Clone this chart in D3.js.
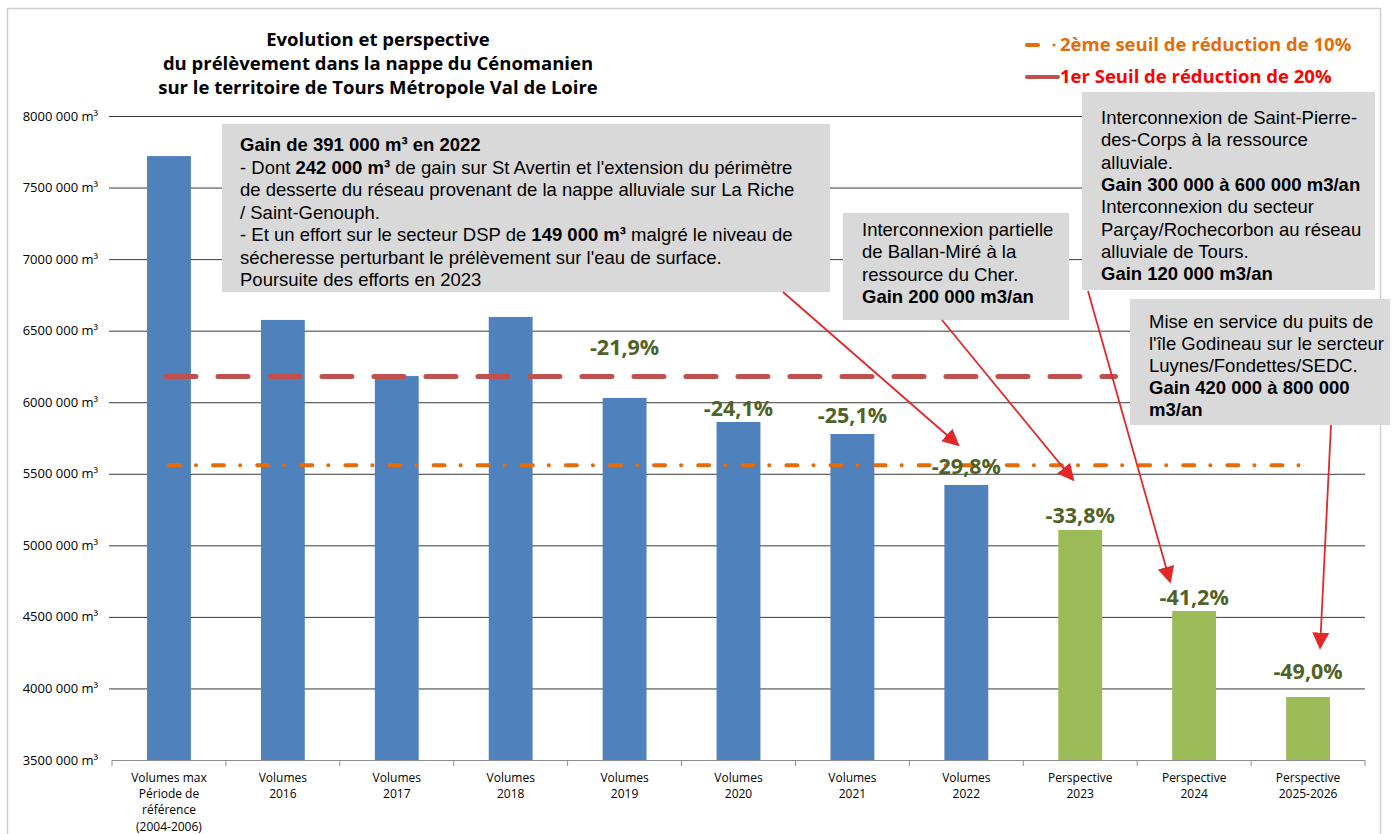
<!DOCTYPE html>
<html>
<head>
<meta charset="utf-8">
<script src="https://cdn.jsdelivr.net/npm/d3@7"></script>
<style>
  body { margin: 0; background: #fff; }
  svg { display: block; }
  .calibri { font-family: "Open Sans", "Liberation Sans", sans-serif; }
  .arial { font-family: "Liberation Sans", Arial, sans-serif; }
</style>
</head>
<body>
<div id="chart"></div>
<script>
// categories + values
const categories = [
  ["Volumes max", "Période de", "référence", "(2004-2006)"],
  ["Volumes", "2016"],
  ["Volumes", "2017"],
  ["Volumes", "2018"],
  ["Volumes", "2019"],
  ["Volumes", "2020"],
  ["Volumes", "2021"],
  ["Volumes", "2022"],
  ["Perspective", "2023"],
  ["Perspective", "2024"],
  ["Perspective", "2025-2026"]
];
const volumes = [7720000, 6575000, 6183000, 6596000, 6030000, 5862000, 5778000, 5422000, 5107000, 4541000, 3940000];
const isPerspective = [false, false, false, false, false, false, false, false, true, true, true];
const pctLabels = [null, null, null, null, "-21,9%", "-24,1%", "-25,1%", "-29,8%", "-33,8%", "-41,2%", "-49,0%"];

const yTicks = [3500000, 4000000, 4500000, 5000000, 5500000, 6000000, 6500000, 7000000, 7500000, 8000000];
const yTickLabels = ["3500 000 m³", "4000 000 m³", "4500 000 m³", "5000 000 m³", "5500 000 m³", "6000 000 m³", "6500 000 m³", "7000 000 m³", "7500 000 m³", "8000 000 m³"];

// seuils (20% and 10% extra reduction of the reference volume)
const seuil20 = 6180000;
const seuil10 = 5560000;

const titleLines = ["Evolution et perspective", "du prélèvement dans la nappe du Cénomanien", "sur le territoire de Tours Métropole Val de Loire"];

// annotation boxes: lines of [text, bold] segments
const noteGain2022 = [
  [["Gain de 391 000 m³ en 2022", true]],
  [["- Dont ", false], ["242 000 m³", true], [" de gain sur St Avertin et l'extension du périmètre", false]],
  [["de desserte du réseau provenant de la nappe alluviale sur La Riche", false]],
  [["/ Saint-Genouph.", false]],
  [["- Et un effort sur le secteur DSP de ", false], ["149 000 m³", true], [" malgré le niveau de", false]],
  [["sécheresse perturbant le prélèvement sur l'eau de surface.", false]],
  [["Poursuite des efforts en 2023", false]]
];
const noteBallan = [
  [["Interconnexion partielle", false]],
  [["de Ballan-Miré à la", false]],
  [["ressource du Cher.", false]],
  [["Gain 200 000 m3/an", true]]
];
const noteStPierre = [
  [["Interconnexion de Saint-Pierre-", false]],
  [["des-Corps à la ressource", false]],
  [["alluviale.", false]],
  [["Gain 300 000 à 600 000 m3/an", true]],
  [["Interconnexion du secteur", false]],
  [["Parçay/Rochecorbon au réseau", false]],
  [["alluviale de Tours.", false]],
  [["Gain 120 000 m3/an", true]]
];
const noteGodineau = [
  [["Mise en service du puits de", false]],
  [["l'île Godineau sur le sercteur", false]],
  [["Luynes/Fondettes/SEDC.", false]],
  [["Gain 420 000 à 800 000", true]],
  [["m3/an", true]]
];

const W = 1395, H = 834;
const margin = {top: 116, right: 30, bottom: 74, left: 112};
const innerW = 1365 - margin.left;
const innerH = 760 - margin.top;

const svg = d3.select("#chart").append("svg")
    .attr("width", W)
    .attr("height", H);

// outer frame
svg.append("rect")
    .attr("x", 7.5).attr("y", 8.5)
    .attr("width", 1373).attr("height", H)
    .attr("fill", "none")
    .attr("stroke", "#d0d0d0")
    .attr("stroke-width", 1.5);

const g = svg.append("g")
    .attr("transform", "translate(" + margin.left + "," + margin.top + ")");

const x = d3.scaleBand()
    .domain(d3.range(categories.length))
    .range([0, innerW])
    .paddingInner(0.615)
    .paddingOuter(0.3075);

const band = d3.scaleBand().domain(d3.range(categories.length)).range([0, innerW]);

const y = d3.scaleLinear()
    .domain([3500000, 8000000])
    .range([innerH, 0]);

// gridlines + y labels
const yAxis = d3.axisLeft(y)
    .tickValues(yTicks.slice(1))
    .tickSize(-innerW - 3)
    .tickFormat("");
g.append("g")
    .attr("transform", "translate(-3,0)")
    .call(yAxis)
    .call(s => s.select(".domain").remove())
    .call(s => s.selectAll(".tick line").attr("stroke", "#3a3a3a").attr("stroke-width", 1));

g.append("g")
    .selectAll("text")
    .data(yTicks)
    .enter()
    .append("text")
    .attr("class", "calibri")
    .attr("x", -14)
    .attr("y", d => y(d))
    .attr("dy", "0.35em")
    .attr("text-anchor", "end")
    .attr("font-size", "13px")
    .attr("fill", "#000")
    .text((d, i) => yTickLabels[i]);

// bars
g.append("g")
    .selectAll("rect")
    .data(volumes)
    .enter()
    .append("rect")
    .attr("x", (d, i) => x(i))
    .attr("y", d => y(d))
    .attr("width", x.bandwidth())
    .attr("height", d => innerH - y(d))
    .attr("fill", (d, i) => isPerspective[i] ? "#9bbb59" : "#4f81bd");

// x axis
const xAxis = d3.axisBottom(band)
    .tickSize(0)
    .tickFormat("");
g.append("g")
    .attr("transform", "translate(0," + innerH + ")")
    .call(xAxis)
    .call(s => s.select(".domain").attr("stroke", "#8c8c8c").attr("d", "M0,0.5H" + innerW));

g.append("g")
    .selectAll("line")
    .data(d3.range(categories.length + 1))
    .enter()
    .append("line")
    .attr("x1", i => i * band.step())
    .attr("x2", i => i * band.step())
    .attr("y1", innerH)
    .attr("y2", innerH + 6)
    .attr("stroke", "#8c8c8c");

const xl = g.append("g")
    .selectAll("text")
    .data(categories)
    .enter()
    .append("text")
    .attr("class", "calibri")
    .attr("text-anchor", "middle")
    .attr("font-size", "12px")
    .attr("fill", "#000")
    .attr("transform", (d, i) => "translate(" + (band(i) + band.bandwidth() / 2) + "," + (innerH + 22) + ")");
xl.selectAll("tspan")
    .data(d => d)
    .enter()
    .append("tspan")
    .attr("x", 0)
    .attr("dy", (d, i) => i === 0 ? 0 : 16.2)
    .text(d => d);

// seuil lines
const lineGen = d3.line().x(d => d[0]).y(d => y(d[1]));
const cx = i => band(i) + band.bandwidth() / 2;

g.append("path")
    .datum([[cx(0) - 3, seuil20], [band.step() * 8.81, seuil20]])
    .attr("d", lineGen)
    .attr("fill", "none")
    .attr("stroke", "#c0504d")
    .attr("stroke-width", 5)
    .attr("stroke-linecap", "round")
    .attr("stroke-dasharray", "30 22");

g.append("path")
    .datum([[cx(0), seuil10], [cx(10), seuil10]])
    .attr("d", lineGen)
    .attr("fill", "none")
    .attr("stroke", "#e46c0a")
    .attr("stroke-width", 4)
    .attr("stroke-linecap", "round")
    .attr("stroke-dasharray", "11 16 0.1 17");

// percentage labels
const labelLift = [0, 0, 0, 0, 50, 13, 18, 18, 14, 13, 25];
g.append("g")
    .selectAll("text")
    .data(pctLabels)
    .enter()
    .filter(d => d !== null)
    .append("text")
    .attr("class", "calibri")
    .attr("text-anchor", "middle")
    .attr("font-size", "21.5px")
    .attr("font-weight", "bold")
    .attr("fill", "#4f6228")
    .attr("x", (d, i) => cx(pctLabels.indexOf(d)))
    .attr("y", d => { const i = pctLabels.indexOf(d); return y(volumes[i]) - labelLift[i] + 7; })
    .text(d => d);

// title
svg.append("g")
    .selectAll("text")
    .data(titleLines)
    .enter()
    .append("text")
    .attr("class", "calibri")
    .attr("x", 378)
    .attr("y", (d, i) => 46 + i * 24)
    .attr("text-anchor", "middle")
    .attr("font-size", "18.5px")
    .attr("font-weight", "bold")
    .attr("fill", "#000")
    .text(d => d);

// legend
const legend = svg.append("g");
legend.append("line")
    .attr("x1", 1027).attr("x2", 1038).attr("y1", 45).attr("y2", 45)
    .attr("stroke", "#e46c0a").attr("stroke-width", 4).attr("stroke-linecap", "round");
legend.append("circle")
    .attr("cx", 1054).attr("cy", 45).attr("r", 1.6).attr("fill", "#e46c0a");
legend.append("text")
    .attr("class", "calibri")
    .attr("x", 1060).attr("y", 51)
    .attr("font-size", "18.5px").attr("font-weight", "bold")
    .attr("fill", "#e46c0a")
    .text("2ème seuil de réduction de 10%");
legend.append("line")
    .attr("x1", 1027).attr("x2", 1058).attr("y1", 77).attr("y2", 77)
    .attr("stroke", "#c0504d").attr("stroke-width", 4).attr("stroke-linecap", "round");
legend.append("text")
    .attr("class", "calibri")
    .attr("x", 1060).attr("y", 83)
    .attr("font-size", "18.5px").attr("font-weight", "bold")
    .attr("fill", "#ff0000")
    .text("1er Seuil de réduction de 20%");

// annotation boxes
const drawNote = (lines, bx, by, bw, bh, tx, ty, lh) => {
    const ng = svg.append("g");
    ng.append("rect")
        .attr("x", bx).attr("y", by)
        .attr("width", bw).attr("height", bh)
        .attr("fill", "#d9d9d9");
    const t = ng.selectAll("text")
        .data(lines)
        .enter()
        .append("text")
        .attr("class", "arial")
        .attr("x", tx)
        .attr("y", (d, i) => ty + i * lh)
        .attr("font-size", "18.5px")
        .attr("fill", "#000");
    t.selectAll("tspan")
        .data(d => d)
        .enter()
        .append("tspan")
        .attr("font-weight", d => d[1] ? "bold" : "normal")
        .text(d => d[0]);
};
drawNote(noteGain2022, 222, 124, 608, 168, 240, 151, 22.5);
drawNote(noteBallan, 843, 213, 226, 107, 862, 236, 22.3);
drawNote(noteStPierre, 1082, 92, 293, 198, 1101, 124, 22.3);
drawNote(noteGodineau, 1130, 299, 260, 126, 1149, 328, 22);

// arrows
const defs = svg.append("defs");
defs.append("marker")
    .attr("id", "head")
    .attr("viewBox", "0 0 10 10")
    .attr("refX", 9).attr("refY", 5)
    .attr("markerWidth", 17).attr("markerHeight", 17)
    .attr("markerUnits", "userSpaceOnUse")
    .attr("orient", "auto")
    .append("path")
    .attr("d", "M0,0 L10,5 L0,10 Z")
    .attr("fill", "#e3282a");

// [start x, start y, target category, target value, dx]
const arrows = [
    [783, 292, 7, 5701000, -8],
    [942, 320, 8, 5457000, -7],
    [1088, 291, 9, 4744000, -24],
    [1331, 425, 10, 4283000, 12]
];
svg.append("g")
    .selectAll("line")
    .data(arrows)
    .enter()
    .append("line")
    .attr("x1", d => d[0]).attr("y1", d => d[1])
    .attr("x2", d => margin.left + cx(d[2]) + d[4])
    .attr("y2", d => margin.top + y(d[3]))
    .attr("stroke", "#e3282a")
    .attr("stroke-width", 1.8)
    .attr("marker-end", "url(#head)");
</script>
</body>
</html>
